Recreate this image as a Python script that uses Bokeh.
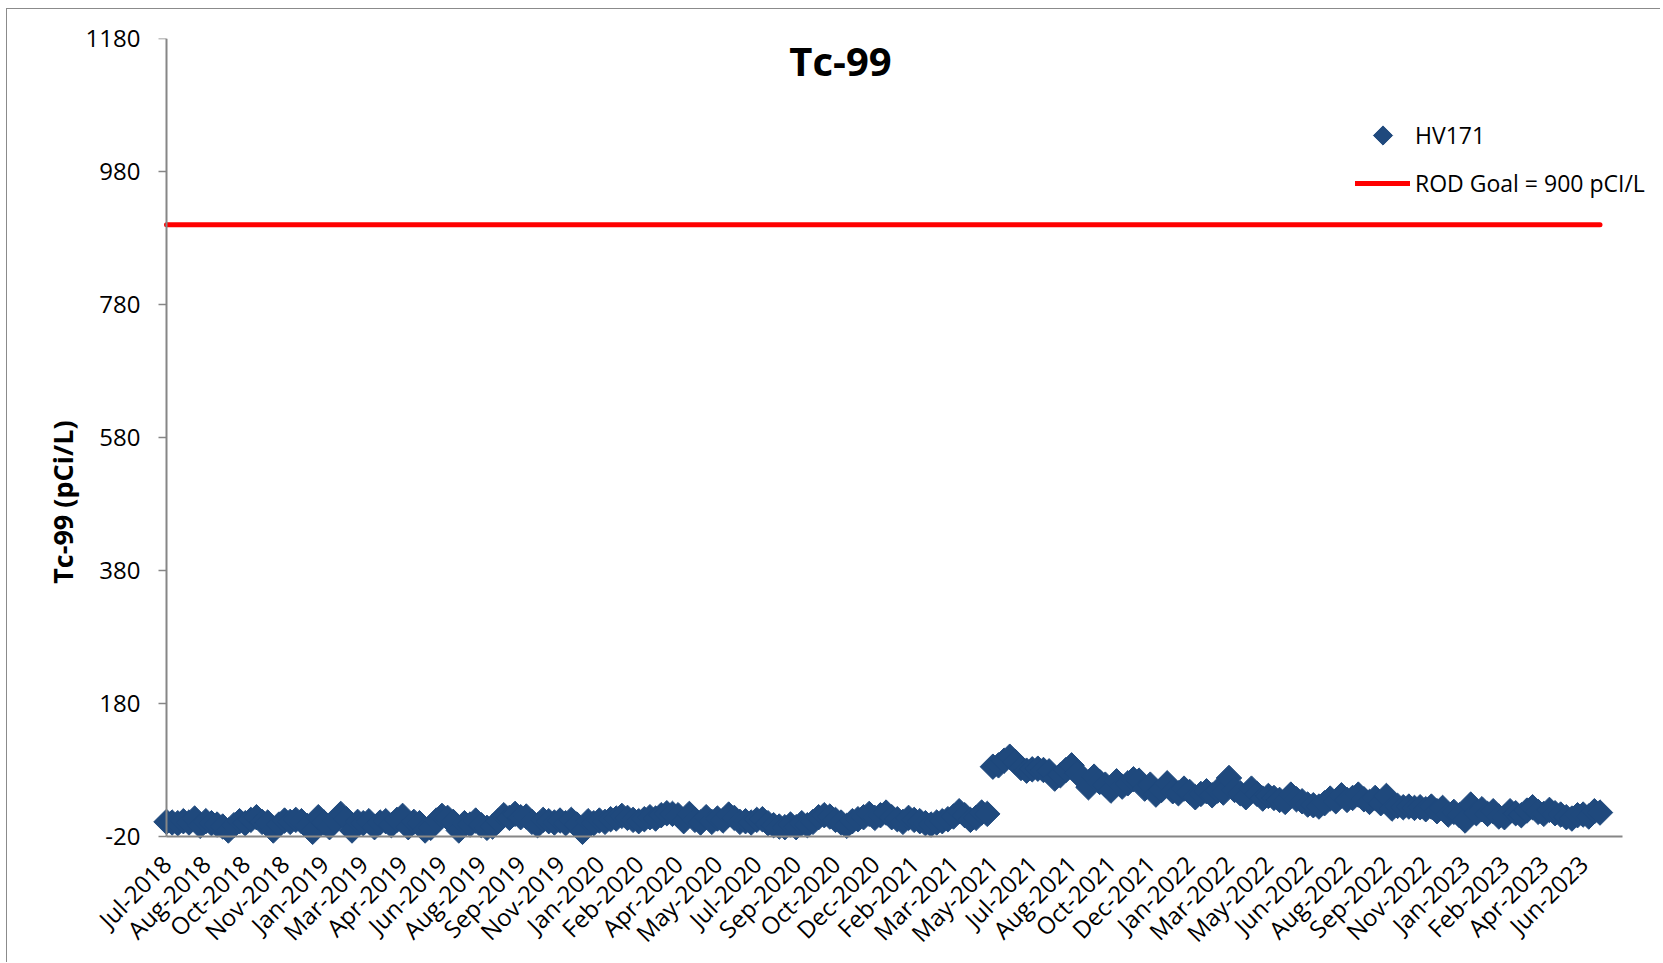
import math
from bokeh.plotting import figure
from bokeh.models import (Range1d, FixedTicker, Legend, LegendItem, Label, LinearAxis,
                          Title, ColumnDataSource)
from bokeh.embed import file_html
from bokeh.resources import INLINE

try:
    from bokeh.models import Ngon
except ImportError:
    Ngon = None

# ---- data -------------------------------------------------------------
x_labels = ["Jul-2018", "Aug-2018", "Oct-2018", "Nov-2018", "Jan-2019", "Mar-2019",
            "Apr-2019", "Jun-2019", "Aug-2019", "Sep-2019", "Nov-2019", "Jan-2020",
            "Feb-2020", "Apr-2020", "May-2020", "Jul-2020", "Sep-2020", "Oct-2020",
            "Dec-2020", "Feb-2021", "Mar-2021", "May-2021", "Jul-2021", "Aug-2021",
            "Oct-2021", "Dec-2021", "Jan-2022", "Mar-2022", "May-2022", "Jun-2022",
            "Aug-2022", "Sep-2022", "Nov-2022", "Jan-2023", "Feb-2023", "Apr-2023",
            "Jun-2023"]
label_every = 7  # one label every 7 weekly samples

# HV171 Tc-99 results (pCi/L), weekly samples
hv171_2018_19 = [2, 1, 0, 3, 1, 7, -4, 3, 0, -2, -5, -11, -3, 3, 0, 5, 9, 2, 1, -11,
                 -2, 4, 2, 5, 3, -4, -13, 9, 1, -6, 4, 14, 6, -11, 2, 0, 3, -6, 1, 3,
                 -3, 5, 11, -6, 2, 0, -11, -7, 4, 11, 8, 2]
hv171_2019_20 = [-11, 0, -2, 4, -3, -7, -5, 3, 12, 8, 14, 9, 10, 2, -3, 5, 3, 1,
                 4, 0, 5, -2, -13, 3, 0, 4, 2, 6, 7, 11, 8, 5, 3, 6, 9, 7, 12, 15,
                 14, 12, 3, 14, 5, 1, 9, 2, 7, 4, 13, 8, 2, 3]
hv171_2020_21 = [1, 5, 6, 0, -3, -5, -6, -2, -6, 0, -3, 2, 9, 12, 10, 5,
                 1, -4, 3, 6, 9, 14, 8, 12, 16, 9, 6, 2, 8, 5, 3, 0, -2, 1, 3, 6,
                 10, 18, 12, 5, 8, 16, 14, 85, 87, 94, 100, 92, 83, 79, 81, 82]
hv171_2021_22 = [80, 78, 67, 72, 80, 87, 75, 68, 54, 70, 62, 58, 49, 63, 55, 60, 66,
                 64, 52, 58, 43, 50, 60, 48, 45, 52, 47, 39, 44, 48, 42, 49, 46,
                 68, 50, 45, 39, 52, 44, 37, 41, 38, 35, 32, 43, 36, 33, 28, 27, 25, 30, 37]
hv171_2022_23 = [33, 42, 35, 38, 43, 36, 32, 38, 30, 41, 22, 26, 24, 25, 23,
                 24, 21, 25, 18, 23, 13, 17, 12, 4, 28, 15, 21,
                 14, 18, 10, 9, 18, 15, 12, 19, 24, 17, 14,
                 20, 15, 13, 9, 7, 12, 13, 10, 18, 16]
rod_goal = 900

y_min, y_max, y_step = -20, 1180, 200

hv171 = hv171_2018_19 + hv171_2019_20 + hv171_2020_21 + hv171_2021_22 + hv171_2022_23
cat = list(range(len(hv171)))
goal_line = [rod_goal] * len(cat)
n_cats = len(x_labels) * label_every
y_ticks = list(range(y_min, y_max + 1, y_step))

# ---- layout (pixels) --------------------------------------------------
W, H = 1654, 954
axis_len_x, axis_len_y = 1456.0, 797.7     # length of the drawn axes
pad_left = 16                              # frame reaches past the axes,
pad_bottom = 11                            # so markers are not clipped
border_left, border_right, border_top = 143, 6, 29
frame_w = W - border_left - border_right
frame_h = axis_len_y + pad_bottom
border_bottom = H - border_top - frame_h

ppc = axis_len_x / n_cats
ppu = axis_len_y / (y_max - y_min)
x0 = -pad_left / ppc
x1 = (frame_w - pad_left) / ppc
y0 = y_min - pad_bottom / ppu

# ---- figure -----------------------------------------------------------
marker_color = "#1F497D"
axis_gray = "#868686"
FONT = "Open Sans"

p = figure(width=W, height=H, output_backend="svg", toolbar_location=None,
           x_range=Range1d(x0, x1), y_range=Range1d(y0, y_max),
           min_border_left=border_left, min_border_right=border_right,
           min_border_top=border_top, min_border_bottom=int(round(border_bottom)),
           background_fill_color="white", border_fill_color="white",
           styles={"margin-left": "6px", "margin-top": "8px",
                   "border-left": "1px solid #8b8b8b", "border-top": "1px solid #8b8b8b"})
p.outline_line_color = None
p.xgrid.visible = False
p.ygrid.visible = False

goal = p.line(cat, goal_line, line_color="#FF0000", line_width=5, line_cap="round")
pts = p.scatter(cat, hv171, marker="square", size=18, angle=math.pi / 4,
                fill_color=marker_color, line_color=marker_color)

# legend key for the points: a square diamond (not drawn in the plot itself)
if Ngon is not None:
    key_src = ColumnDataSource(dict(x=[float("nan")], y=[float("nan")]))
    key = p.add_glyph(key_src, Ngon(x="x", y="y", radius=1, n=4,
                                    fill_color=marker_color, line_color=marker_color))
else:
    key = p.scatter(x=[float("nan")], y=[float("nan")], marker="diamond", size=17,
                    fill_color=marker_color, line_color=marker_color)

# label-only axes in the side panels
p.yaxis.ticker = FixedTicker(ticks=y_ticks)
p.yaxis.major_label_overrides = {t: str(t) for t in y_ticks}
p.yaxis.axis_line_color = None
p.yaxis.major_tick_line_color = None
p.yaxis.minor_tick_line_color = None
p.yaxis.major_tick_out = 0
p.yaxis.major_tick_in = 0
p.yaxis.major_label_standoff = 10
p.yaxis.major_label_text_font = FONT
p.yaxis.major_label_text_font_size = "24px"
p.yaxis.major_label_text_color = "black"

p.xaxis.ticker = FixedTicker(ticks=[i * label_every for i in range(len(x_labels))])
p.xaxis.major_label_overrides = {i * label_every: lab for i, lab in enumerate(x_labels)}
p.xaxis.major_label_orientation = math.pi / 4
p.xaxis.axis_line_color = None
p.xaxis.major_tick_line_color = None
p.xaxis.minor_tick_line_color = None
p.xaxis.major_tick_out = 0
p.xaxis.major_tick_in = 0
p.xaxis.major_label_standoff = 12
p.xaxis.major_label_text_font = FONT
p.xaxis.major_label_text_font_size = "24px"
p.xaxis.major_label_text_color = "black"

# axis lines (and y tick marks) drawn at the value -20 / first category
y_line = LinearAxis(fixed_location=0, bounds=(y_min, y_max), ticker=FixedTicker(ticks=y_ticks),
                    axis_line_color=axis_gray, axis_line_width=2,
                    major_tick_line_color=axis_gray, major_tick_line_width=1.5,
                    major_tick_out=8, major_tick_in=0, minor_tick_line_color=None,
                    major_label_text_font_size="0px", major_label_text_alpha=0,
                    major_label_standoff=0)
p.add_layout(y_line, "left")
x_line = LinearAxis(fixed_location=y_min, bounds=(0, n_cats), ticker=FixedTicker(ticks=[]),
                    axis_line_color=axis_gray, axis_line_width=2,
                    major_tick_line_color=None, minor_tick_line_color=None,
                    major_tick_out=0, major_tick_in=0, major_label_standoff=0)
p.add_layout(x_line, "above")

# y axis title (placed like the original, below the axis centre)
p.add_layout(Title(text="Tc-99 (pCi/L)", align="left", offset=frame_h - (583 - 38),
                   text_font=FONT, text_font_size="27px", text_font_style="bold",
                   text_color="black", standoff=4), "left")

# chart title inside the chart area
p.add_layout(Label(x=690, y=frame_h - (59.4 - 38), x_units="screen", y_units="screen",
                   text="Tc-99", text_align="center", text_baseline="middle",
                   text_font=FONT, text_font_style="bold", text_font_size="40px",
                   text_color="black"))

legend = Legend(items=[LegendItem(label="HV171", renderers=[key]),
                       LegendItem(label="ROD Goal = 900 pCI/L", renderers=[goal])],
                location=(1205, frame_h - (206.3 - 38)), glyph_width=55, glyph_height=48,
                label_standoff=5, spacing=0, padding=0, margin=0,
                border_line_color=None, background_fill_alpha=0,
                label_text_font=FONT, label_text_font_size="23px",
                label_text_color="black")
p.add_layout(legend)

open("out.html", "w").write(file_html(p, INLINE))
